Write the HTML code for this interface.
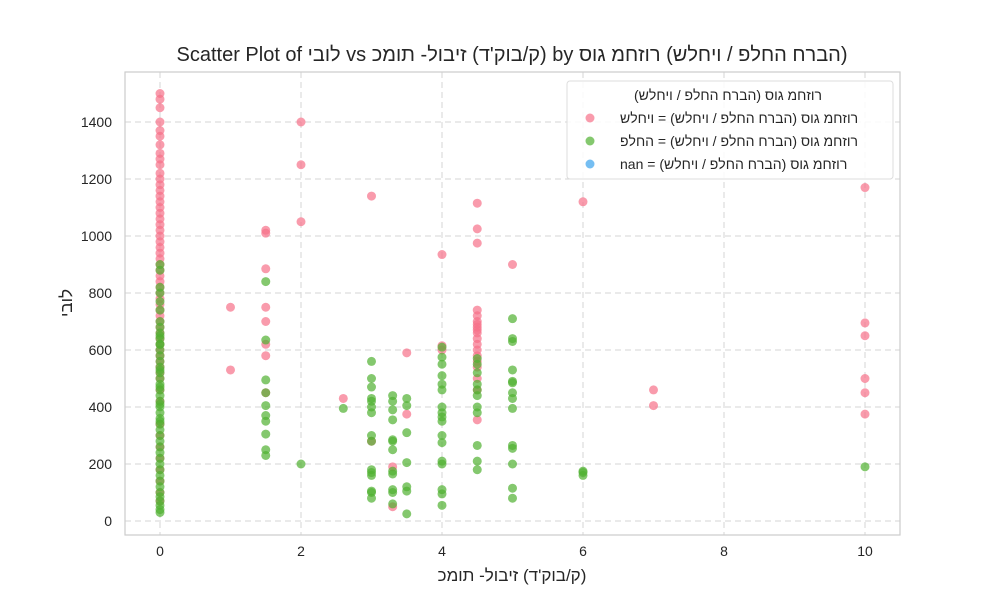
<!DOCTYPE html>
<html><head><meta charset="utf-8">
<style>
body{margin:0;background:#fff;}
#wrap{position:relative;width:1000px;height:600px;overflow:hidden;}
svg{position:absolute;left:0;top:0;}
svg text{font-family:"Liberation Sans","DejaVu Sans",sans-serif;fill:#262626;}
.t{position:absolute;white-space:pre;font-family:"Liberation Sans","DejaVu Sans",sans-serif;color:#262626;line-height:1;}
.t span{position:absolute;top:0;white-space:pre;}
.c{transform:translateX(-50%);}
</style></head>
<body>
<div id="wrap">
<svg id="chart" width="1000" height="600" xmlns="http://www.w3.org/2000/svg">
<rect width="1000" height="600" fill="#fff"/>
<g id="grid"></g>
<g id="pts"></g>
<rect x="125" y="72" width="775" height="463" fill="none" stroke="#ccc" stroke-width="1.2"/>
<g id="ticks"></g>
<g>
<rect x="567" y="81" width="326" height="98" rx="3" fill="#fff" fill-opacity="0.85" stroke="#ddd"/>
<circle cx="590" cy="118" r="4.5" fill="#f77189" fill-opacity="0.7"/>
<circle cx="590" cy="141" r="4.5" fill="#50b131" fill-opacity="0.7"/>
<circle cx="590" cy="164" r="4.5" fill="#3ba3ec" fill-opacity="0.7"/>
</g>
</svg>
<div class="t c" data-fs="20" style="left:512px;top:45px;font-size:20px;">Scatter Plot of לובי vs זיבול- תומכ (ק/בוק'ד) by רוזחמ גוס (הברח החלפ / ויחלש)</div>
<div class="t c" data-fs="17" style="left:512px;top:567px;font-size:17px;">זיבול- תומכ (ק/בוק'ד)</div>
<div class="t" data-fs="17" style="left:68px;top:303px;font-size:17px;transform:translate(-50%,-50%) rotate(-90deg);">לובי</div>
<div class="t c" data-fs="14" style="left:728px;top:88px;font-size:14px;">(הברח החלפ / ויחלש) רוזחמ גוס</div>
<div class="t" data-fs="14" style="left:620px;top:111px;font-size:14px;">ויחלש = (הברח החלפ / ויחלש) רוזחמ גוס</div>
<div class="t" data-fs="14" style="left:620px;top:134px;font-size:14px;">החלפ = (הברח החלפ / ויחלש) רוזחמ גוס</div>
<div class="t" data-fs="14" style="left:620px;top:157px;font-size:14px;">nan = (הברח החלפ / ויחלש) רוזחמ גוס</div>
</div>
<script>
const xTicks=[0,2,4,6,8,10];
const yTicks=[0,200,400,600,800,1000,1200,1400];
const pinkX=[0,0,0,0,0,0,0,0,0,0,0,0,0,0,0,0,0,0,0,0,0,0,0,0,0,0,0,0,0,0,0,0,0,0,0,0,0,0,0,0,0,0,0,0,0,0,0,0,0,0,0,0,0,0,0,0,0,
1,1,1.5,1.5,1.5,1.5,1.5,1.5,1.5,1.5,2,2,2,2.6,3,3,3.3,3.3,3.5,3.5,4,4,4,
4.5,4.5,4.5,4.5,4.5,4.5,4.5,4.5,4.5,4.5,4.5,4.5,4.5,4.5,4.5,4.5,4.5,4.5,4.5,5,6,7,7,10,10,10,10,10,10];
const pinkY=[1500,1480,1450,1400,1370,1350,1320,1290,1270,1250,1220,1200,1180,1160,1140,1120,1100,1080,1060,1040,1020,1000,980,960,940,920,900,880,860,840,820,800,780,760,740,720,700,680,660,640,620,600,580,560,540,520,500,300,260,220,180,140,100,70,340,420,460,
750,530,1020,1010,885,750,700,620,580,450,1400,1250,1050,430,1140,280,190,50,590,375,935,615,600,
1115,1025,975,740,720,700,690,680,670,660,640,620,600,580,560,540,500,460,355,900,1120,460,405,1170,695,650,500,450,375];
const greenX=[0,0,0,0,0,0,0,0,0,0,0,0,0,0,0,0,0,0,0,0,0,0,0,0,0,0,0,0,0,0,0,0,0,0,0,0,0,0,0,0,0,0,0,0,0,0,0,0,
1.5,1.5,1.5,1.5,1.5,1.5,1.5,1.5,1.5,1.5,2,2.6,
3,3,3,3,3,3,3,3,3,3,3,3,3,3,3,
3.3,3.3,3.3,3.3,3.3,3.3,3.3,3.3,3.3,3.3,3.3,3.3,
3.5,3.5,3.5,3.5,3.5,3.5,3.5,
4,4,4,4,4,4,4,4,4,4,4,4,4,4,4,4,4,
4.5,4.5,4.5,4.5,4.5,4.5,4.5,4.5,4.5,4.5,4.5,
5,5,5,5,5,5,5,5,5,5,5,5,5,5,6,6,6,10];
const greenY=[900,880,820,800,770,740,700,680,660,640,620,600,580,560,540,520,500,480,460,440,420,400,380,360,340,320,300,280,260,240,220,200,180,160,140,120,100,85,70,55,40,30,650,620,530,470,410,350,
840,635,495,450,405,370,350,305,250,230,200,395,
560,500,470,430,420,400,380,300,280,180,170,160,105,100,80,
440,420,390,355,285,280,250,175,165,110,100,60,
430,405,310,205,120,105,25,
610,575,550,510,480,460,400,380,365,350,300,275,210,200,110,95,55,
570,550,520,480,460,440,400,380,265,210,180,
710,640,630,530,490,485,450,430,395,265,255,200,115,80,175,170,160,190];
const NS='http://www.w3.org/2000/svg';
const xs=v=>160+70.5*v, ys=v=>521-0.285*v;
const grid=document.getElementById('grid'),ticks=document.getElementById('ticks'),pts=document.getElementById('pts');
function mk(t,a){const e=document.createElementNS(NS,t);for(const k in a)e.setAttribute(k,a[k]);return e;}
xTicks.forEach(v=>{
 const l=mk('line',{x1:xs(v),x2:xs(v),y1:72,y2:535,stroke:'#d5d5d5','stroke-dasharray':'6,4'});
 
 
 grid.appendChild(l);
 const t=mk('text',{x:xs(v),y:556,'font-size':14,'text-anchor':'middle'});t.textContent=v;
 
 
 ticks.appendChild(t);
});
yTicks.forEach(v=>{
 const l=mk('line',{x1:125,x2:900,y1:ys(v),y2:ys(v),stroke:'#d5d5d5','stroke-dasharray':'6,4'});
 
 
 grid.appendChild(l);
 const t=mk('text',{x:112,y:ys(v)+5,'font-size':14,'text-anchor':'end'});t.textContent=v;
 
 
 ticks.appendChild(t);
});
function draw(X,Y,c,n){X.forEach((x,i)=>{
 const p=mk('circle',{cx:xs(x),cy:ys(Y[i]),r:4.5,fill:c,'fill-opacity':0.7});
 
 
 pts.appendChild(p);});}
draw(pinkX,pinkY,'#f77189','point-pink');
draw(greenX,greenY,'#50b131','point-green');
// glyphs drawn in logical order left-to-right (matplotlib style): reverse each Hebrew run
const ctx=document.createElement('canvas').getContext('2d');
const run=/[\u0590-\u05FF'\-\/][\u0590-\u05FF'\-\/ ]*[\u0590-\u05FF'\-\/]|[\u0590-\u05FF]/g;
document.querySelectorAll('.t').forEach(el=>{
 const fs=el.getAttribute('data-fs');
 ctx.font=fs+'px "Liberation Sans","DejaVu Sans",sans-serif';
 const s=el.textContent.replace(run,w=>Array.from(w).reverse().join(''));
 el.textContent='';
 let x=0;
 for(const ch of s){
  const sp=document.createElement('span');sp.textContent=ch;
  
  
  sp.style.left=x+'px';
  el.appendChild(sp);
  x+=ctx.measureText(ch).width;
 }
 el.style.width=x+'px';el.style.height=(fs*1.2)+'px';
});
</script>
</body></html>
